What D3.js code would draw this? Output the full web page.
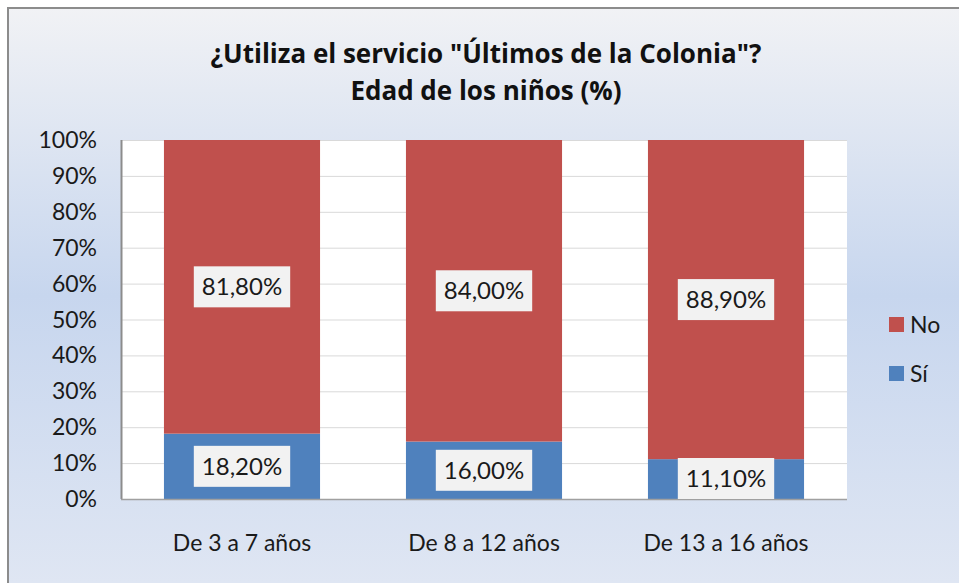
<!DOCTYPE html>
<html>
<head>
<meta charset="utf-8">
<script src="https://cdn.jsdelivr.net/npm/d3@7"></script>
<style>
  html, body { margin: 0; padding: 0; background: #fff; }
  svg { display: block; }
</style>
</head>
<body>
<div id="chart"></div>
<script>
'use strict';

// data
const categories = ["De 3 a 7 años", "De 8 a 12 años", "De 13 a 16 años"];
const si = [18.2, 16.0, 11.1];
const no = [81.8, 84.0, 88.9];
const seriesNames = ["Sí", "No"];
const yTicks = [0, 10, 20, 30, 40, 50, 60, 70, 80, 90, 100];
const titleLines = ["¿Utiliza el servicio \"Últimos de la Colonia\"?", "Edad de los niños (%)"];

const width = 959, height = 583;
const font = "Lato, 'Open Sans', sans-serif";
const margin = { top: 140, right: 112, bottom: 84, left: 121 };

const svg = d3.select("#chart")
	.append("svg")
		.attr("width", width)
		.attr("height", height);

// background gradient
const grad = svg.append("defs")
	.append("linearGradient")
		.attr("id", "bg")
		.attr("gradientUnits", "userSpaceOnUse")
		.attr("x1", 0).attr("y1", 8)
		.attr("x2", 0).attr("y2", 583);
grad.append("stop").attr("offset", "0").attr("stop-color", "#f1f2f5");
grad.append("stop").attr("offset", "0.5").attr("stop-color", "#c7d6ee");
grad.append("stop").attr("offset", "1").attr("stop-color", "#dfe6f3");

svg.append("rect")
	.attr("x", 8).attr("y", 8)
	.attr("width", 1000).attr("height", 700)
	.attr("fill", "url(#bg)")
	.attr("stroke", "#8c8c8c")
	.attr("stroke-width", 2);

// title
svg.append("g")
	.selectAll("text")
	.data(titleLines)
	.join("text")
		.attr("x", 486)
		.attr("y", (d, i) => 63 + i * 37)
		.attr("text-anchor", "middle")
		.attr("font-family", "'Open Sans', Lato, sans-serif")
		.attr("font-weight", "bold")
		.attr("font-size", 26)
		.attr("fill", "#111")
		.text(d => d);

const bottomY = 499;
const plotW = 726;

const x = d3.scaleBand()
	.domain(categories)
	.range([margin.left, margin.left + plotW])
	.paddingInner(0.355)
	.paddingOuter(0.1775);

const y = d3.scaleLinear()
	.domain([0, 100])
	.range([bottomY, margin.top]);

// plot area
svg.append("rect")
	.attr("x", margin.left).attr("y", margin.top)
	.attr("width", plotW).attr("height", bottomY - margin.top)
	.attr("fill", "#fff");

// gridlines
svg.append("g")
	.selectAll("line")
	.data(yTicks.slice(1))
	.join("line")
		.attr("x1", margin.left).attr("x2", margin.left + plotW)
		.attr("y1", d => y(d) + 0.5).attr("y2", d => y(d) + 0.5)
		.attr("stroke", "#d9d9d9")
		.attr("stroke-width", 1);

// stacked bars
const rows = categories.map((c, i) => ({ cat: c, "Sí": si[i], "No": no[i] }));
const stack = d3.stack().keys(seriesNames)(rows);
const colors = { "Sí": "#4f81bd", "No": "#c0504d" };

const layers = svg.append("g")
	.selectAll("g")
	.data(stack)
	.join("g")
		.attr("fill", d => colors[d.key]);

layers.selectAll("rect")
	.data(d => d)
	.join("rect")
		.attr("x", d => x(d.data.cat))
		.attr("width", x.bandwidth())
		.attr("y", d => y(d[1]))
		.attr("height", d => y(d[0]) - y(d[1]));

// axes lines
svg.append("line")
	.attr("x1", margin.left + 0.5).attr("x2", margin.left + 0.5)
	.attr("y1", margin.top).attr("y2", bottomY)
	.attr("stroke", "#8c8c8c").attr("stroke-width", 2);
svg.append("line")
	.attr("x1", margin.left).attr("x2", margin.left + plotW)
	.attr("y1", bottomY + 0.5).attr("y2", bottomY + 0.5)
	.attr("stroke", "#a0a0a0").attr("stroke-width", 1.5);

// data labels
const fmt = v => v.toFixed(2).replace(".", ",") + "%";
stack.forEach(layer => {
	layer.forEach(d => {
		const cx = x(d.data.cat) + x.bandwidth() / 2;
		const cy = Math.min(y((d[0] + d[1]) / 2), bottomY - 20.5);
		const g = svg.append("g");
		const box = g.append("rect")
			.attr("fill", "#f2f2f2");
		const t = g.append("text")
			.attr("x", cx)
			.attr("y", cy)
			.attr("dy", "0.35em")
			.attr("text-anchor", "middle")
			.attr("font-family", font)
			.attr("font-size", 24)
			.attr("fill", "#1a1a1a")
			.text(fmt(d.data[layer.key]));
		const w = t.node().getComputedTextLength() + 16;
		box.attr("x", cx - w / 2).attr("y", cy - 20.5)
			.attr("width", w).attr("height", 41);
	});
});

// y axis labels
svg.append("g")
	.selectAll("text")
	.data(yTicks)
	.join("text")
		.attr("x", 97)
		.attr("y", d => y(d))
		.attr("dy", "0.35em")
		.attr("text-anchor", "end")
		.attr("font-family", font)
		.attr("font-size", 23)
		.attr("fill", "#1a1a1a")
		.text(d => d + "%");

// x axis labels
svg.append("g")
	.selectAll("text")
	.data(categories)
	.join("text")
		.attr("x", d => x(d) + x.bandwidth() / 2)
		.attr("y", 543)
		.attr("dy", "0.35em")
		.attr("text-anchor", "middle")
		.attr("font-family", font)
		.attr("font-size", 23)
		.attr("fill", "#1a1a1a")
		.text(d => d);

// legend (No above Sí)
const legend = svg.append("g")
	.selectAll("g")
	.data(seriesNames.slice().reverse())
	.join("g")
		.attr("transform", (d, i) => `translate(889, ${317 + i * 49})`);
legend.append("rect")
	.attr("width", 15).attr("height", 15)
	.attr("fill", d => colors[d]);
legend.append("text")
	.attr("x", 21)
	.attr("y", 8)
	.attr("dy", "0.35em")
	.attr("font-family", font)
	.attr("font-size", 23)
	.attr("fill", "#1a1a1a")
	.text(d => d);
</script>
</body>
</html>
